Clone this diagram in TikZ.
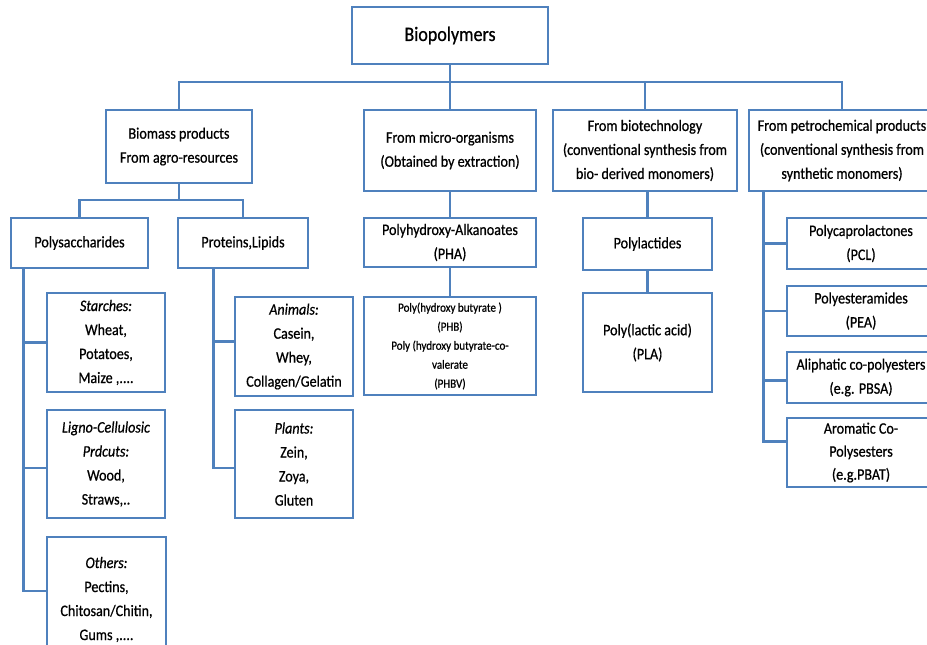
\documentclass[tikz,border=0pt]{standalone}
\usepackage{fontspec}
\setmainfont{Carlito}[FakeBold=0.7,FakeStretch=0.88]
\definecolor{bl}{HTML}{4F81BD}
\newcommand\mkbox[7]{\node[box,#6,minimum width={(#4)-(#2)},minimum height={(#5)-(#3)}] (#1) at ({((#2)+(#4))/2},{((#3)+(#5))/2}) {#7};}
\begin{document}
\begin{tikzpicture}[x=1pt,y=-1pt,
  box/.style={draw=bl, line width=2.6pt, fill=white, align=center, inner sep=0pt, font=\fontsize{16}{24}\selectfont},
  conn/.style={draw=bl, line width=2.6pt}]
\useasboundingbox (0,0) rectangle (927,645);
\clip (0,0) rectangle (927,645);
% boxes
\mkbox{bio}{352}{7}{548}{64}{font=\fontsize{20.5}{24}\selectfont}{Biopolymers}
\mkbox{biomass}{106}{110}{252}{183}{}{Biomass products\\From agro-resources}
\mkbox{micro}{364}{110}{536}{191}{}{From micro-organisms\\(Obtained by extraction)}
\mkbox{biotech}{553}{110}{737}{191}{}{From biotechnology\\(conventional synthesis from\\bio- derived monomers)}
\mkbox{petro}{749}{110}{935}{191}{}{From petrochemical products\\(conventional synthesis from\\synthetic monomers)}
\mkbox{poly}{11}{218}{148}{268}{}{Polysaccharides}
\mkbox{prot}{178}{218}{308}{268}{}{Proteins,Lipids}
\mkbox{pha}{364}{218}{536}{267}{}{Polyhydroxy-Alkanoates\\(PHA)}
\mkbox{lact}{583}{218}{712}{270}{}{Polylactides}
\mkbox{pcl}{787}{218}{935}{269}{}{Polycaprolactones\\(PCL)}
\mkbox{starch}{47}{293}{165}{392}{}{\textit{Starches:}\\Wheat,\\Potatoes,\\Maize ,....}
\mkbox{ligno}{47}{410}{165}{518}{}{\textit{Ligno-Cellulosic}\\\textit{Prdcuts:}\\Wood,\\Straws,..}
\mkbox{others}{47}{537}{166}{662}{}{\textit{Others:}\\Pectins,\\Chitosan/Chitin,\\Gums ,....}
\mkbox{animals}{235}{297}{353}{396}{}{\textit{Animals:}\\Casein,\\Whey,\\Collagen/Gelatin}
\mkbox{plants}{235}{410}{353}{518}{}{\textit{Plants:}\\Zein,\\Zoya,\\Gluten}
\mkbox{phb}{364}{297}{536}{395}{font=\fontsize{12.5}{19}\selectfont}{Poly(hydroxy butyrate )\\(PHB)\\Poly (hydroxy butyrate-co-\\valerate\\(PHBV)}
\mkbox{pla}{583}{293}{712}{392}{}{Poly(lactic acid)\\(PLA)}
\mkbox{pea}{787}{286}{935}{336}{}{Polyesteramides\\(PEA)}
\mkbox{aliph}{787}{352}{935}{403}{}{Aliphatic co-polyesters\\(e.g. PBSA)}
\mkbox{arom}{787}{418}{935}{487}{font=\fontsize{16}{23}\selectfont}{Aromatic Co-\\Polysesters\\(e.g.PBAT)}
% top bus
\coordinate (bus) at (450,82);
\draw[conn] (biomass.north) |- (bus) -| (petro.north);
\draw[conn] (bio.south) -- (micro.north);
\draw[conn] (biotech.north) -- (biotech.north |- bus);
% biomass subtree
\coordinate (bus2) at (179,200);
\draw[conn] (biomass.south) -- (bus2);
\draw[conn] (poly.north) |- (bus2) -| (prot.north);
\coordinate (pv) at ([xshift=14pt]poly.south west);
\draw[conn] (pv) |- ([yshift=8.5pt]others.west);
\draw[conn] (starch.west) -- (starch.west -| pv);
\draw[conn] ([yshift=-4pt]ligno.west) -- ([yshift=-4pt]ligno.west -| pv);
\coordinate (rv) at ([xshift=37pt]prot.south west);
\draw[conn] (rv) |- ([yshift=-4pt]plants.west);
\draw[conn] ([yshift=5pt]animals.west) -- ([yshift=5pt]animals.west -| rv);
% micro-organisms
\draw[conn] (micro.south) -- (pha.north);
\draw[conn] (pha.south) -- (phb.north);
% biotech
\draw[conn] (lact.north) -- (lact.north |- biotech.south);
\draw[conn] (lact.south) -- (pla.north);
% petro
\coordinate (tv) at ([xshift=16pt]petro.south west);
\draw[conn] (tv) |- ([yshift=11pt]arom.west);
\draw[conn] (pcl.west) -- (pcl.west -| tv);
\draw[conn] (pea.west) -- (pea.west -| tv);
\draw[conn] ([yshift=-3pt]aliph.west) -- ([yshift=-3pt]aliph.west -| tv);
\end{tikzpicture}
\end{document}
